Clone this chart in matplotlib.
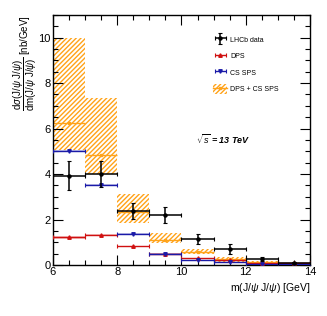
import numpy as np
import matplotlib.pyplot as plt
from matplotlib.patches import Patch
from matplotlib.lines import Line2D
from matplotlib.container import ErrorbarContainer
from matplotlib.legend_handler import HandlerErrorbar

plt.rcParams['font.family'] = ['Liberation Sans', 'DejaVu Sans']
plt.rcParams['mathtext.fontset'] = 'custom'
plt.rcParams['mathtext.rm'] = 'Liberation Sans'
plt.rcParams['mathtext.it'] = 'Liberation Sans:italic'
plt.rcParams['mathtext.bf'] = 'Liberation Sans:bold'
plt.rcParams['hatch.linewidth'] = 1.0

# bins in m(J/psi J/psi) [GeV]
edges = np.array([6, 7, 8, 9, 10, 11, 12, 13, 14])
centres = 0.5 * (edges[:-1] + edges[1:])

# LHCb data
data = [3.92, 4.00, 2.37, 2.20, 1.15, 0.71, 0.26, 0.10]
data_err = [0.64, 0.58, 0.36, 0.37, 0.22, 0.22, 0.08, 0.05]

# DPS
dps = [1.22, 1.31, 0.82, 0.51, 0.30, 0.22, 0.10, 0.08]
dps_err = [0.05, 0.05, 0.04, 0.03, 0.03, 0.02, 0.01, 0.01]

# CS SPS
sps = [5.02, 3.54, 1.37, 0.51, 0.21, 0.12, 0.05, 0.03]
sps_err = [0.04, 0.04, 0.04, 0.03, 0.03, 0.02, 0.01, 0.01]

# DPS + CS SPS
tot = [6.25, 4.85, 2.35, 1.10, 0.59, 0.26, 0.15, 0.08]
tot_lo = [5.05, 4.02, 1.86, 0.96, 0.47, 0.14, 0.09, 0.04]
tot_hi = [10.0, 7.35, 3.11, 1.40, 0.70, 0.35, 0.20, 0.11]

orange = '#ffa31a'
red = '#d01010'
blue = '#1a1aa8'
hatch = '///////'

fig = plt.figure(figsize=(3.27, 3.16), dpi=100)
ax = fig.add_axes([0.162, 0.161, 0.786, 0.792])

widths = np.diff(edges)
lo = np.array(tot_lo)
hi = np.array(tot_hi)
ax.bar(edges[:-1], hi - lo, width=widths, bottom=lo, align='edge',
       facecolor='none', edgecolor=orange, hatch=hatch, linewidth=0, zorder=1)
ax.errorbar(centres, tot, xerr=widths / 2, fmt='s', color=orange, ms=2,
            elinewidth=1.0, capsize=0, zorder=2)

# light bands around the model curves
for vals, errs, col in [(dps, dps_err, red), (sps, sps_err, blue)]:
    v = np.array(vals)
    e = np.array(errs)
    ax.bar(edges[:-1], 2 * e, width=widths, bottom=v - e, align='edge',
           color=col, alpha=0.25, linewidth=0, zorder=2)

h_dps = ax.errorbar(centres, dps, xerr=widths / 2, fmt='^', color=red, ms=2.5,
                    elinewidth=1.0, capsize=1.5, capthick=0.8, zorder=3)
h_sps = ax.errorbar(centres, sps, xerr=widths / 2, fmt='v', color=blue, ms=2.5,
                    elinewidth=1.0, capsize=1.5, capthick=0.8, zorder=3)
h_data = ax.errorbar(centres, data, xerr=widths / 2, yerr=data_err, fmt='o', color='black',
                     ms=2.2, elinewidth=1.1, capsize=1.5, capthick=0.8, zorder=4)

ax.set_xlim(6, 14)
ax.set_ylim(0, 11)
ax.set_xticks([6, 8, 10, 12, 14])
ax.set_xticks(np.arange(6, 14.01, 0.5), minor=True)
ax.set_yticks([0, 2, 4, 6, 8, 10])
ax.set_yticks(np.arange(0, 11.01, 0.5), minor=True)
ax.tick_params(which='both', direction='in', top=True, right=True, labelsize=8, pad=1.5)
ax.tick_params(which='major', length=7, width=0.8)
ax.tick_params(which='minor', length=3.5, width=0.8)
for s in ax.spines.values():
    s.set_linewidth(1.0)

ax.set_xlabel(r'm(J/$\psi$ J/$\psi$) [GeV]', fontsize=7.5, loc='right', labelpad=3)
ax.set_ylabel(r'$\dfrac{\mathrm{d}\sigma(\mathrm{J}/\psi\ \mathrm{J}/\psi)}{\mathrm{dm}(\mathrm{J}/\psi\ \mathrm{J}/\psi)}$ [nb/GeV]',
              fontsize=7, loc='top', labelpad=0)

ax.text(10.45, 5.55, r'$\sqrt{s}$ = 13 TeV', fontsize=6.5, style='italic',
        fontweight='bold', va='center')

h_tot = (Patch(facecolor='none', edgecolor=orange, hatch=hatch, linewidth=0),
         Line2D([], [], color=orange, marker='s', ms=2, lw=1.0))
ax.legend([h_data, h_dps, h_sps, h_tot], ['LHCb data', 'DPS', 'CS SPS', 'DPS + CS SPS'],
          loc='upper left', bbox_to_anchor=(0.6, 0.945), frameon=False, fontsize=5,
          handlelength=2.0, handleheight=1.8, labelspacing=0.95, handletextpad=0.4,
          handler_map={ErrorbarContainer: HandlerErrorbar(xerr_size=0.8, yerr_size=0.8)})

fig.savefig('out.png', dpi=100)
